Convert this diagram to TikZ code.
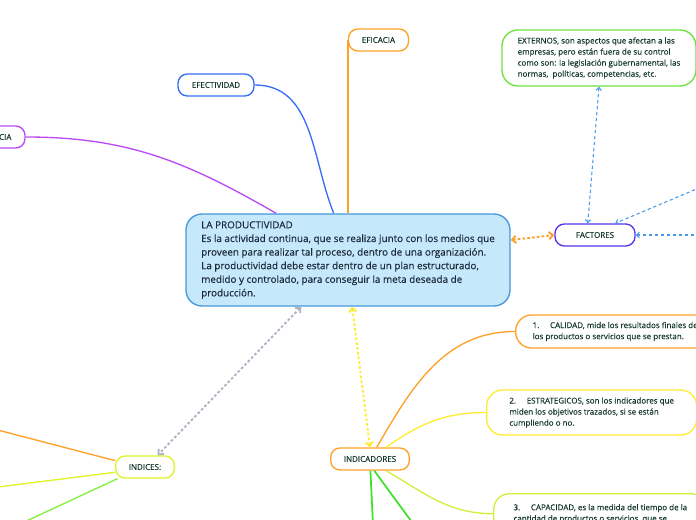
\documentclass[tikz,border=0pt]{standalone}
\usepackage{fontspec}
\setmainfont{Open Sans}[FakeBold=0.35]
\usepackage{tikz}
\usetikzlibrary{arrows.meta,positioning}
\definecolor{txtc}{RGB}{22,58,44}
\definecolor{maintxt}{RGB}{30,42,60}
\definecolor{mainfill}{RGB}{197,233,250}
\definecolor{mainline}{RGB}{70,150,220}
\definecolor{orc}{RGB}{255,160,40}
\definecolor{ylc}{RGB}{255,235,50}
\definecolor{lgc}{RGB}{205,242,60}
\definecolor{grc}{RGB}{60,225,40}
\definecolor{lime}{RGB}{130,240,60}
\definecolor{idc}{RGB}{222,242,40}
\definecolor{puc}{RGB}{185,75,245}
\definecolor{blc}{RGB}{55,110,245}
\definecolor{dbc}{RGB}{75,155,235}
\definecolor{fac}{RGB}{90,50,235}
\definecolor{exc}{RGB}{110,225,60}
\definecolor{dgc}{RGB}{170,180,195}

\begin{document}
\begin{tikzpicture}[x=0.75pt,y=-0.75pt,line join=round,
  topic/.style={draw,line width=1pt,fill=white,rounded corners=7pt,minimum height=16.5pt,inner sep=0pt,font=\fontsize{6}{8}\selectfont,text=txtc},
  note/.style={draw,line width=1pt,fill=white,rounded corners=12pt,align=left,font=\fontsize{6}{8.3}\selectfont,text=txtc,inner ysep=5pt},
  link/.style={line width=1pt},
  dotlink/.style={line width=1.4pt,dash pattern=on 2pt off 1.6pt,{Straight Barb[length=3pt,width=5.5pt]}-{Straight Barb[length=3pt,width=5.5pt]}},
  dashlink/.style={dbc,line width=0.8pt,dash pattern=on 2.5pt off 2pt,-{Straight Barb[length=2.2pt,width=4pt]}}]
  \useasboundingbox (0,0) rectangle (696,520);

  % central idea
  \node[draw=mainline,fill=mainfill,line width=1pt,rounded corners=12pt,align=left,minimum width=243pt,minimum height=69pt,font=\fontsize{7.4}{10.2}\selectfont,text=maintxt] (prod) at (348,260) {LA PRODUCTIVIDAD\\Es la actividad continua, que se realiza junto con los medios que\\proveen para realizar tal proceso, dentro de una organización.\\La productividad debe estar dentro de un plan estructurado,\\medido y controlado, para conseguir la meta deseada de\\producción.};

  % topics
  \node[topic,draw=orc,minimum width=45pt] (eficacia) at (378.5,40) {EFICACIA};
  \node[topic,draw=blc,minimum width=57pt] (efectividad) at (216,85) {EFECTIVIDAD};
  \node[topic,draw=puc,minimum width=51pt] (eficiencia) at (-9,137) {EFICIENCIA};
  \node[topic,draw=fac,minimum width=60pt] (factores) at (595,235) {FACTORES};
  \node[topic,draw=orc,minimum width=59pt] (indicadores) at (370,459) {INDICADORES};
  \node[topic,draw=idc,minimum width=44pt] (indices) at (145,467) {INDICES:};

  \node[note,draw=exc,minimum width=145.5pt,minimum height=42pt] (externos) at (599,58) {EXTERNOS, son aspectos que afectan a las\\empresas, pero están fuera de su control\\como son: la legislación gubernamental, las\\normas,\ \ políticas, competencias, etc.};
  \node[note,draw=orc,anchor=west,minimum height=24.75pt,inner xsep=12.75pt] (calidad) at (515,331.5) {1.\hspace{8pt}CALIDAD, mide los resultados finales de\\los productos o servicios que se prestan.};
  \node[note,draw=ylc,anchor=west,minimum width=157.5pt,minimum height=33.75pt,inner xsep=14pt] (estrategicos) at (486,412.5) {2.\hspace{8pt}ESTRATEGICOS, son los indicadores que\\miden los objetivos trazados, si se están\\cumpliendo o no.};
  \node[note,draw=lgc,anchor=north west,minimum width=160pt,minimum height=30pt,inner xsep=14pt] (capacidad) at (493,493) {3.\hspace{8pt}CAPACIDAD, es la medida del tiempo de la\\cantidad de productos o servicios, que se};

  % branches
  \draw[link,puc] (eficiencia.east) to[out=0,in=150] (prod.147);
  \draw[link,blc] (efectividad.east) to[out=0,in=112] (prod.107);
  \draw[link,orc] (eficacia.west) -- (eficacia.west |- prod.north);
  \draw[dotlink,orc] (prod.7) -- (factores.west);
  \draw[dotlink,ylc] (prod.-85) -- (indicadores.north);
  \draw[dotlink,dgc] (prod.225) -- (indices.43);

  \coordinate (r1) at (706,185); \coordinate (r2) at (706,235);
  \draw[dashlink,{Straight Barb[length=2.2pt,width=4pt]}-{Straight Barb[length=2.2pt,width=4pt]}] (externos.south) -- (factores.122);
  \draw[dashlink] (r1) -- (factores.30);
  \draw[dashlink] (r2) -- (factores.east);

  \draw[link,orc] (indicadores.60) to[out=60,in=180] (calidad.west);
  \draw[link,ylc] (indicadores.36) to[out=35,in=180] (estrategicos.west);
  \draw[link,lgc] (indicadores.-36) to[out=-30,in=180] (capacidad.west);
  \coordinate (d1) at (373,525); \coordinate (d2) at (414,525);
  \draw[link,grc,line width=1.3pt] (indicadores.-88) -- (d1);
  \draw[link,grc,line width=1.3pt] (indicadores.-70) -- (d2);

  \coordinate (l1) at (-10,428); \coordinate (l2) at (-10,488); \coordinate (l3) at (20,524);
  \draw[link,orc] (indices.168) -- (l1);
  \draw[link,idc] (indices.190) -- (l2);
  \draw[link,lime] (indices.203) -- (l3);
\end{tikzpicture}
\end{document}
